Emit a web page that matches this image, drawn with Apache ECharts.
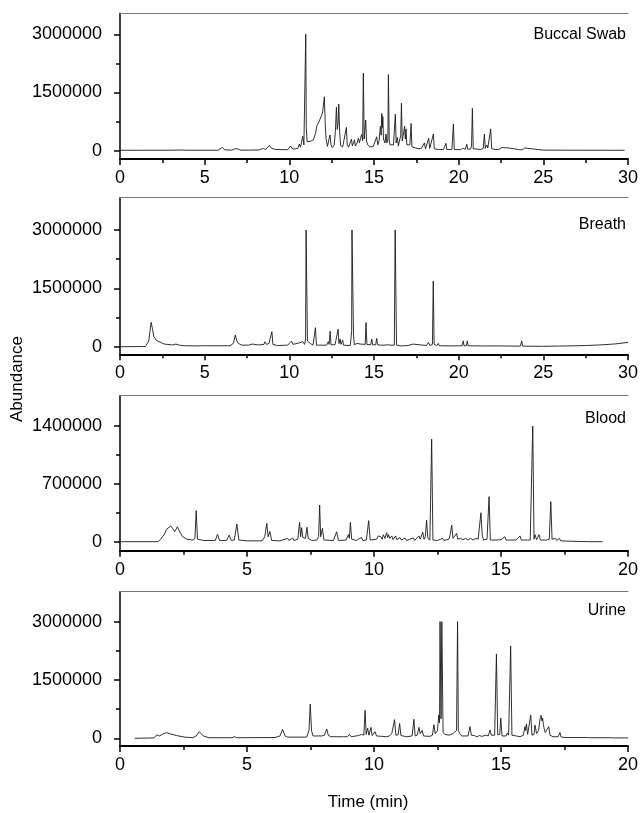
<!DOCTYPE html>
<html>
<head>
<meta charset="utf-8">
<script src="https://cdn.jsdelivr.net/npm/echarts@6/dist/echarts.min.js"></script>
<style>
html,body{margin:0;padding:0;background:#fff;}
#chart{width:644px;height:813px;}
</style>
</head>
<body>
<div id="chart"></div>
<script>
// ---- Data (time in min, abundance) ----
const panelNames = ['Buccal Swab', 'Breath', 'Blood', 'Urine'];
const xMaxes = [30, 30, 20, 20];
const yMins = [-214000, -195000, -109000, -198000];
const yMaxes = [3540000, 3830000, 1767000, 3770000];
const yTickLabels = [[0, 1500000, 3000000], [0, 1500000, 3000000], [0, 700000, 1400000], [0, 1500000, 3000000]];
const yMinorTicks = [[750000, 2250000], [750000, 2250000], [350000, 1050000], [750000, 2250000]];

const buccal = [[0,10000],[3,12000],[3.5,18000],[4,12000],[5.8,12000],[6.04,85000],[6.2,20000],[6.6,15000],[6.8,50000],[6.9,25000],[6.98,45000],[7.1,15000],[7.8,15000],[8.2,20000],[8.47,60000],[8.6,30000],[8.82,135000],[8.95,60000],[9.06,85000],[9.2,30000],[9.9,25000],[10.08,120000],[10.2,40000],[10.35,50000],[10.43,85000],[10.5,60000],[10.59,170000],[10.66,90000],[10.79,375000],[10.86,150000],[10.94,200000],[10.97,3000000],[11.0,600000],[11.05,230000],[11.13,230000],[11.3,250000],[11.42,280000],[11.55,450000],[11.62,630000],[11.7,700000],[11.81,750000],[11.9,900000],[11.97,1000000],[12.03,1250000],[12.07,1390000],[12.12,700000],[12.17,300000],[12.25,110000],[12.33,150000],[12.40,405000],[12.46,150000],[12.54,80000],[12.65,150000],[12.72,500000],[12.78,1120000],[12.83,550000],[12.88,700000],[12.92,1200000],[12.97,500000],[13.03,130000],[13.15,100000],[13.25,150000],[13.37,600000],[13.42,150000],[13.5,90000],[13.6,120000],[13.67,300000],[13.72,120000],[13.8,150000],[13.85,280000],[13.9,120000],[14.0,200000],[14.08,320000],[14.14,200000],[14.22,350000],[14.28,420000],[14.33,250000],[14.37,2000000],[14.42,300000],[14.47,350000],[14.51,790000],[14.56,250000],[14.63,150000],[14.75,100000],[14.85,140000],[14.95,100000],[15.05,150000],[15.16,360000],[15.22,150000],[15.3,250000],[15.38,630000],[15.42,400000],[15.46,960000],[15.5,600000],[15.52,880000],[15.56,300000],[15.6,340000],[15.65,200000],[15.71,430000],[15.76,200000],[15.82,300000],[15.85,1960000],[15.9,250000],[15.95,150000],[16.05,100000],[16.15,150000],[16.26,940000],[16.31,200000],[16.38,340000],[16.44,120000],[16.52,150000],[16.58,400000],[16.62,1220000],[16.67,250000],[16.74,200000],[16.81,630000],[16.85,300000],[16.89,560000],[16.94,150000],[17.05,100000],[17.12,150000],[17.19,700000],[17.24,100000],[17.35,70000],[17.6,50000],[17.8,60000],[17.9,40000],[17.98,200000],[18.04,50000],[18.15,80000],[18.23,320000],[18.29,60000],[18.4,70000],[18.51,430000],[18.56,50000],[18.8,30000],[19.1,30000],[19.2,50000],[19.25,190000],[19.3,30000],[19.6,30000],[19.69,690000],[19.74,30000],[20.1,25000],[20.22,60000],[20.3,30000],[20.4,40000],[20.48,165000],[20.53,40000],[20.7,40000],[20.76,120000],[20.81,1090000],[20.86,50000],[21.3,30000],[21.45,60000],[21.52,430000],[21.57,60000],[21.66,147000],[21.72,70000],[21.8,60000],[21.89,560000],[21.95,50000],[22.2,30000],[22.3,80000],[22.36,30000],[22.55,80000],[22.6,30000],[22.95,70000],[23.0,25000],[23.6,25000],[23.7,70000],[23.76,25000],[23.9,70000],[23.96,20000],[25,15000],[27,12000],[29.8,10000]];

const breath = [[0,0],[1.5,5000],[1.55,30000],[1.7,150000],[1.8,500000],[1.84,627000],[1.92,450000],[2.0,260000],[2.15,160000],[2.25,128000],[2.6,70000],[3.1,45000],[3.3,68000],[3.5,40000],[3.8,25000],[4.5,20000],[4.95,25000],[5.04,68000],[5.12,25000],[5.5,25000],[6.5,25000],[6.7,90000],[6.81,300000],[6.9,150000],[6.98,85000],[7.2,40000],[7.6,40000],[7.8,68000],[7.9,40000],[8.2,45000],[8.5,60000],[8.56,128000],[8.65,60000],[8.8,85000],[8.9,60000],[8.97,385000],[9.03,60000],[9.3,30000],[9.9,40000],[10.13,145000],[10.22,60000],[10.3,50000],[10.6,100000],[10.7,60000],[10.8,128000],[10.9,60000],[10.96,200000],[10.99,3000000],[11.03,3000000],[11.07,150000],[11.15,150000],[11.25,80000],[11.3,110000],[11.4,40000],[11.5,40000],[11.54,490000],[11.6,40000],[11.7,20000],[12.2,40000],[12.3,128000],[12.35,60000],[12.41,400000],[12.46,50000],[12.7,50000],[12.8,80000],[12.88,450000],[12.93,80000],[13.0,200000],[13.05,60000],[13.15,170000],[13.2,40000],[13.6,30000],[13.68,400000],[13.7,3000000],[13.76,3000000],[13.79,300000],[13.84,50000],[14.0,85000],[14.05,40000],[14.2,68000],[14.3,40000],[14.48,60000],[14.53,620000],[14.58,60000],[14.8,50000],[14.87,195000],[14.92,50000],[15.1,50000],[15.16,215000],[15.21,50000],[15.4,40000],[15.5,60000],[15.6,40000],[15.8,50000],[16.0,40000],[16.2,40000],[16.25,3000000],[16.3,3000000],[16.33,40000],[16.6,20000],[17.0,30000],[17.3,68000],[17.4,20000],[18.1,30000],[18.21,110000],[18.3,30000],[18.45,60000],[18.5,1690000],[18.55,60000],[18.7,30000],[18.8,85000],[18.85,25000],[19.5,20000],[20.2,25000],[20.27,150000],[20.32,25000],[20.45,25000],[20.51,150000],[20.56,25000],[21.2,20000],[21.3,60000],[21.35,20000],[21.65,20000],[21.7,60000],[21.75,20000],[22.25,20000],[22.3,68000],[22.35,15000],[23.65,15000],[23.72,150000],[23.78,15000],[25,10000],[26.4,20000],[27.5,30000],[28.3,45000],[29.2,70000],[30,110000]];

const blood = [[0,0],[1.5,0],[1.6,30000],[1.67,60000],[1.75,90000],[1.83,150000],[1.9,130000],[2.0,190000],[2.07,160000],[2.15,120000],[2.26,180000],[2.35,120000],[2.47,60000],[2.63,30000],[2.87,20000],[2.95,40000],[3.0,375000],[3.05,30000],[3.3,15000],[3.75,15000],[3.84,90000],[3.92,15000],[4.2,15000],[4.3,80000],[4.38,15000],[4.5,20000],[4.6,214000],[4.68,20000],[5.0,10000],[5.6,10000],[5.7,60000],[5.78,222000],[5.83,60000],[5.9,125000],[5.97,15000],[6.3,10000],[6.6,40000],[6.65,15000],[6.8,45000],[6.85,15000],[7.0,30000],[7.07,234000],[7.11,60000],[7.15,170000],[7.2,50000],[7.3,40000],[7.36,175000],[7.41,40000],[7.45,60000],[7.55,15000],[7.75,20000],[7.82,60000],[7.86,444000],[7.9,60000],[7.97,160000],[8.03,20000],[8.4,15000],[8.53,120000],[8.6,15000],[8.9,20000],[8.99,85000],[9.03,40000],[9.07,234000],[9.12,30000],[9.3,15000],[9.51,50000],[9.56,15000],[9.7,20000],[9.79,255000],[9.85,20000],[10.1,30000],[10.17,70000],[10.22,50000],[10.27,60000],[10.32,30000],[10.37,85000],[10.43,40000],[10.5,110000],[10.54,50000],[10.57,85000],[10.62,40000],[10.7,70000],[10.75,25000],[10.85,70000],[10.9,25000],[11.02,50000],[11.08,20000],[11.22,45000],[11.28,15000],[11.55,45000],[11.6,15000],[11.77,70000],[11.82,30000],[11.92,115000],[11.97,30000],[12.02,60000],[12.07,260000],[12.12,40000],[12.2,20000],[12.27,1240000],[12.32,20000],[12.5,15000],[12.7,40000],[12.75,15000],[12.95,30000],[13.0,85000],[13.06,200000],[13.11,40000],[13.18,50000],[13.25,100000],[13.3,30000],[13.4,40000],[13.5,25000],[13.6,40000],[13.7,20000],[13.8,40000],[13.9,20000],[14.0,40000],[14.1,30000],[14.21,350000],[14.26,80000],[14.31,20000],[14.45,30000],[14.53,545000],[14.58,20000],[14.8,20000],[15.0,25000],[15.15,60000],[15.2,20000],[15.6,20000],[15.75,70000],[15.8,20000],[16.15,20000],[16.25,1400000],[16.3,30000],[16.34,85000],[16.4,25000],[16.5,85000],[16.55,20000],[16.8,20000],[16.9,30000],[16.96,485000],[17.01,30000],[17.07,20000],[17.15,40000],[17.2,15000],[17.3,40000],[17.35,10000],[17.8,5000],[18.5,0],[19.0,0]];

const urine = [[0.58,0],[1.33,10000],[1.45,85000],[1.55,60000],[1.67,100000],[1.83,145000],[2.0,110000],[2.23,70000],[2.55,30000],[2.87,15000],[3.0,60000],[3.12,170000],[3.28,60000],[3.5,15000],[4.4,15000],[4.5,40000],[4.6,15000],[6.1,20000],[6.3,60000],[6.4,230000],[6.5,60000],[6.6,30000],[7.35,30000],[7.44,200000],[7.49,883000],[7.54,200000],[7.6,60000],[7.95,60000],[8.05,80000],[8.14,240000],[8.2,80000],[8.3,40000],[8.8,40000],[8.95,40000],[9.03,100000],[9.1,40000],[9.38,70000],[9.45,40000],[9.51,100000],[9.6,80000],[9.65,720000],[9.69,100000],[9.75,260000],[9.8,80000],[9.88,280000],[9.93,70000],[10.04,170000],[10.1,60000],[10.3,50000],[10.5,40000],[10.6,60000],[10.7,120000],[10.76,80000],[10.81,480000],[10.86,80000],[10.95,90000],[11.01,380000],[11.06,70000],[11.29,40000],[11.5,60000],[11.57,490000],[11.62,60000],[11.7,80000],[11.77,280000],[11.82,120000],[11.9,200000],[11.95,60000],[12.2,50000],[12.3,80000],[12.36,350000],[12.41,120000],[12.5,200000],[12.55,600000],[12.58,400000],[12.6,3000000],[12.62,3000000],[12.64,500000],[12.67,3000000],[12.69,3000000],[12.72,150000],[12.8,100000],[12.96,80000],[13.1,120000],[13.15,70000],[13.25,200000],[13.29,3000000],[13.32,200000],[13.38,120000],[13.45,60000],[13.7,60000],[13.78,300000],[13.83,80000],[13.95,70000],[14.05,40000],[14.15,70000],[14.25,50000],[14.4,80000],[14.5,60000],[14.57,215000],[14.62,80000],[14.75,80000],[14.82,2170000],[14.87,90000],[14.95,100000],[14.99,520000],[15.04,60000],[15.2,60000],[15.25,140000],[15.3,80000],[15.38,2370000],[15.43,80000],[15.6,60000],[15.75,40000],[15.88,80000],[15.94,300000],[15.97,200000],[16.0,370000],[16.05,100000],[16.12,100000],[16.17,600000],[16.22,80000],[16.3,100000],[16.34,340000],[16.4,120000],[16.48,200000],[16.54,510000],[16.58,590000],[16.61,450000],[16.64,520000],[16.67,350000],[16.7,250000],[16.74,150000],[16.77,100000],[16.81,200000],[16.88,300000],[16.93,80000],[17.05,40000],[17.25,40000],[17.32,150000],[17.37,30000],[17.6,20000],[18.35,20000],[18.4,40000],[18.45,15000],[19.3,15000],[19.37,30000],[19.42,10000],[20,10000]];

const panelData = [buccal, breath, blood, urine];

// ---- Layout ----
const gridTops = [13.3, 197.7, 395.7, 591.7];
const gridHeights = [145.7, 156.6, 155, 154.3];
const titleTops = [27, 217, 411, 603];
const FONT = '"Liberation Sans", Arial, Helvetica, sans-serif';

const chart = echarts.init(document.getElementById('chart'), null, {renderer: 'canvas'});

const grid = [], xAxis = [], yAxis = [], series = [], title = [];
for (let i = 0; i < 4; i++) {
  grid.push({left: 120, right: 16, top: gridTops[i], height: gridHeights[i], containLabel: false});
  xAxis.push({
    type: 'value', gridIndex: i, min: 0, max: xMaxes[i], interval: 5, position: 'bottom',
    axisLine: {show: true, onZero: false, lineStyle: {color: '#000', width: 2}},
    axisTick: {show: true, inside: false, length: 6, lineStyle: {color: '#000', width: 1.5}},
    minorTick: {show: true, splitNumber: 2, length: 4, lineStyle: {color: '#000', width: 1.5}},
    axisLabel: {show: true, color: '#000', fontSize: 18, fontFamily: FONT, margin: 10},
    splitLine: {show: false}, minorSplitLine: {show: false}
  });
  xAxis.push({
    type: 'value', gridIndex: i, min: 0, max: xMaxes[i], position: 'top',
    axisLine: {show: true, onZero: false, lineStyle: {color: '#777', width: 1}},
    axisTick: {show: false}, axisLabel: {show: false}, splitLine: {show: false}
  });
  yAxis.push({
    type: 'value', gridIndex: i, min: yMins[i], max: yMaxes[i], position: 'left',
    axisLine: {show: true, onZero: false, lineStyle: {color: '#000', width: 1.5}},
    axisTick: {show: true, inside: false, length: 6, customValues: yTickLabels[i], lineStyle: {color: '#000', width: 1.5}},
    axisLabel: {show: true, color: '#000', fontSize: 18, fontFamily: FONT, margin: 18,
      customValues: yTickLabels[i], formatter: v => String(Math.round(v))},
    splitLine: {show: false}
  });
  yAxis.push({
    type: 'value', gridIndex: i, min: yMins[i], max: yMaxes[i], position: 'left', offset: 0,
    axisLine: {show: false},
    axisTick: {show: true, inside: false, length: 4, customValues: yMinorTicks[i], lineStyle: {color: '#000', width: 1.5}},
    axisLabel: {show: false}, splitLine: {show: false}
  });
  series.push({
    type: 'line', xAxisIndex: i * 2, yAxisIndex: i * 2, data: panelData[i],
    showSymbol: false, symbol: 'none', sampling: null, smooth: false,
    lineStyle: {color: '#1a1a1a', width: 0.9}, clip: true, silent: true
  });
  title.push({
    text: panelNames[i], right: 18, top: titleTops[i], padding: 0,
    textStyle: {color: '#000', fontSize: 16, fontWeight: 'normal', fontFamily: FONT}
  });
}

chart.setOption({
  animation: false,
  backgroundColor: '#fff',
  title: title,
  grid: grid,
  xAxis: xAxis,
  yAxis: yAxis,
  series: series,
  graphic: [
    {type: 'text', x: 17, y: 379, rotation: Math.PI / 2,
      style: {text: 'Abundance', fill: '#000', font: '17px ' + FONT, align: 'center', verticalAlign: 'middle'}},
    {type: 'text', x: 368, y: 802,
      style: {text: 'Time (min)', fill: '#000', font: '17px ' + FONT, align: 'center', verticalAlign: 'middle'}}
  ]
});
</script>
</body>
</html>
